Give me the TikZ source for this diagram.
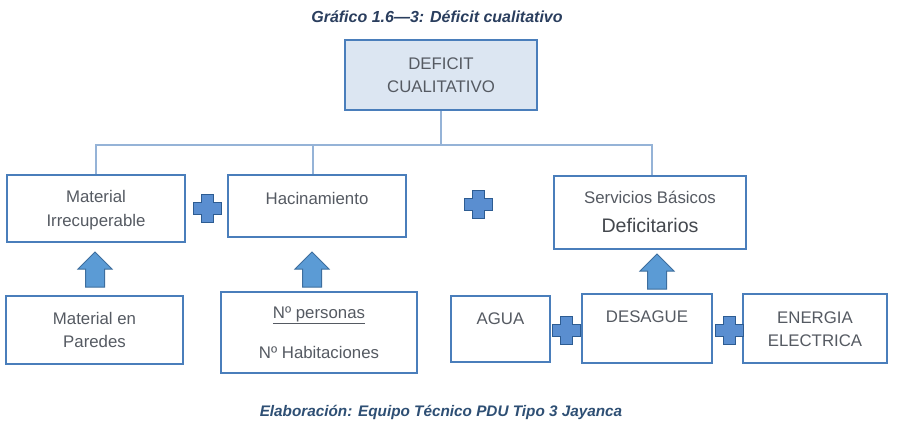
\documentclass[tikz,border=0pt]{standalone}
\usepackage{fontspec}
\setmainfont{Liberation Sans}
\definecolor{bordc}{HTML}{4A7EBB}
\definecolor{topfill}{HTML}{DCE6F2}
\definecolor{treec}{HTML}{95B3D7}
\definecolor{txtc}{HTML}{555A62}
\definecolor{titc}{HTML}{2A3E5E}
\definecolor{footc}{HTML}{2E4F74}
\definecolor{plusfill}{HTML}{5A8ED0}
\definecolor{plusline}{HTML}{2D5C92}
\definecolor{arrfill}{HTML}{5B9BD5}
\definecolor{arrline}{HTML}{3D6E9E}
\tikzset{
  box/.style={draw=bordc, line width=2pt, fill=white, inner sep=0pt},
  txt/.style={text=txtc, align=center, inner sep=0pt, font=\fontsize{16.8}{23.5}\selectfont},
  bigtxt/.style={text=txtc!80!black, inner sep=0pt, font=\fontsize{19.6}{23}\selectfont},
  tree/.style={draw=treec, line width=1.5pt},
  blockup/.pic={\filldraw[fill=arrfill, draw=arrline, line width=1pt]
     (0,0) -- (17,17) -- (9.5,17) -- (9.5,35) -- (-9.5,35) -- (-9.5,17) -- (-17,17) -- cycle;},
  plussign/.pic={\filldraw[fill=plusfill, draw=plusline, line width=1pt]
     (-6,-14) -- (6,-14) -- (6,-6) -- (14,-6) -- (14,6) -- (6,6) -- (6,14) -- (-6,14)
     -- (-6,6) -- (-14,6) -- (-14,-6) -- (-6,-6) -- cycle;}
}
\begin{document}
\begin{tikzpicture}[x=1pt,y=-1pt]
\useasboundingbox (0,0) rectangle (897,432);
\fill[white] (0,0) rectangle (897,432);

% title and footer
\node[text=titc, font=\fontsize{16}{19}\selectfont\bfseries\itshape, inner sep=0pt] (title) at (437,17) {Gráfico 1.6—3: Déficit cualitativo};
\node[text=footc, font=\fontsize{15.3}{18}\selectfont\bfseries\itshape, inner sep=0pt] (foot) at (441,412) {Elaboración: Equipo Técnico PDU Tipo 3 Jayanca};

% boxes
\node[box, fill=topfill, minimum width=192pt, minimum height=70pt] (top) at (441,75) {};
\node[box, minimum width=178pt, minimum height=67pt] (b1) at (96,208.5) {};
\node[box, minimum width=178pt, minimum height=62pt] (b2) at (317,206) {};
\node[box, minimum width=192pt, minimum height=73pt] (b3) at (650,212.5) {};
\node[box, minimum width=177pt, minimum height=68pt] (c1) at (94.5,330) {};
\node[box, minimum width=196pt, minimum height=81pt] (c2) at (319,332.5) {};
\node[box, minimum width=99pt, minimum height=66pt] (d1) at (500.5,329) {};
\node[box, minimum width=130pt, minimum height=69pt] (d2) at (647,328.5) {};
\node[box, minimum width=144pt, minimum height=69pt] (d3) at (815,328.5) {};

% texts
\node[txt] (ttop) at (441,75) {DEFICIT\\CUALITATIVO};
\node[txt] (tb1) at (96,210) {Material\\Irrecuperable};
\node[txt] (tb2) at (317,198) {Hacinamiento};
\node[txt] (tb3a) at (650,197) {Servicios Básicos};
\node[bigtxt] (tb3b) at (650,225) {Deficitarios};
\node[txt] (tc1) at (94.5,330) {Material en\\Paredes};
\node[txt] (tc2a) at (319,315) {\underline{Nº personas}};
\node[txt] (tc2b) at (319,352) {Nº Habitaciones};
\node[txt] (td1) at (500.5,319) {AGUA};
\node[txt] (td2) at (647,317) {DESAGUE};
\node[txt] (td3) at (815,329) {ENERGIA\\ELECTRICA};

% tree connectors
\coordinate (j1) at (96,145);
\coordinate (j2) at (313,145);
\coordinate (j3) at (652,145);
\draw[tree] (top.south) -- (top.south |- j1);
\draw[tree] (b1.north -| j1) -- (j1) -- (j3) -- (b3.north -| j3);
\draw[tree] (j2) -- (b2.north -| j2);

% block arrows
\pic at (95,252) {blockup};
\pic at (312,252) {blockup};
\pic at (657,254) {blockup};

% plus signs
\pic at (207,208) {plussign};
\pic at (478,204) {plussign};
\pic at (566,330) {plussign};
\pic at (729,330) {plussign};
\end{tikzpicture}
\end{document}
